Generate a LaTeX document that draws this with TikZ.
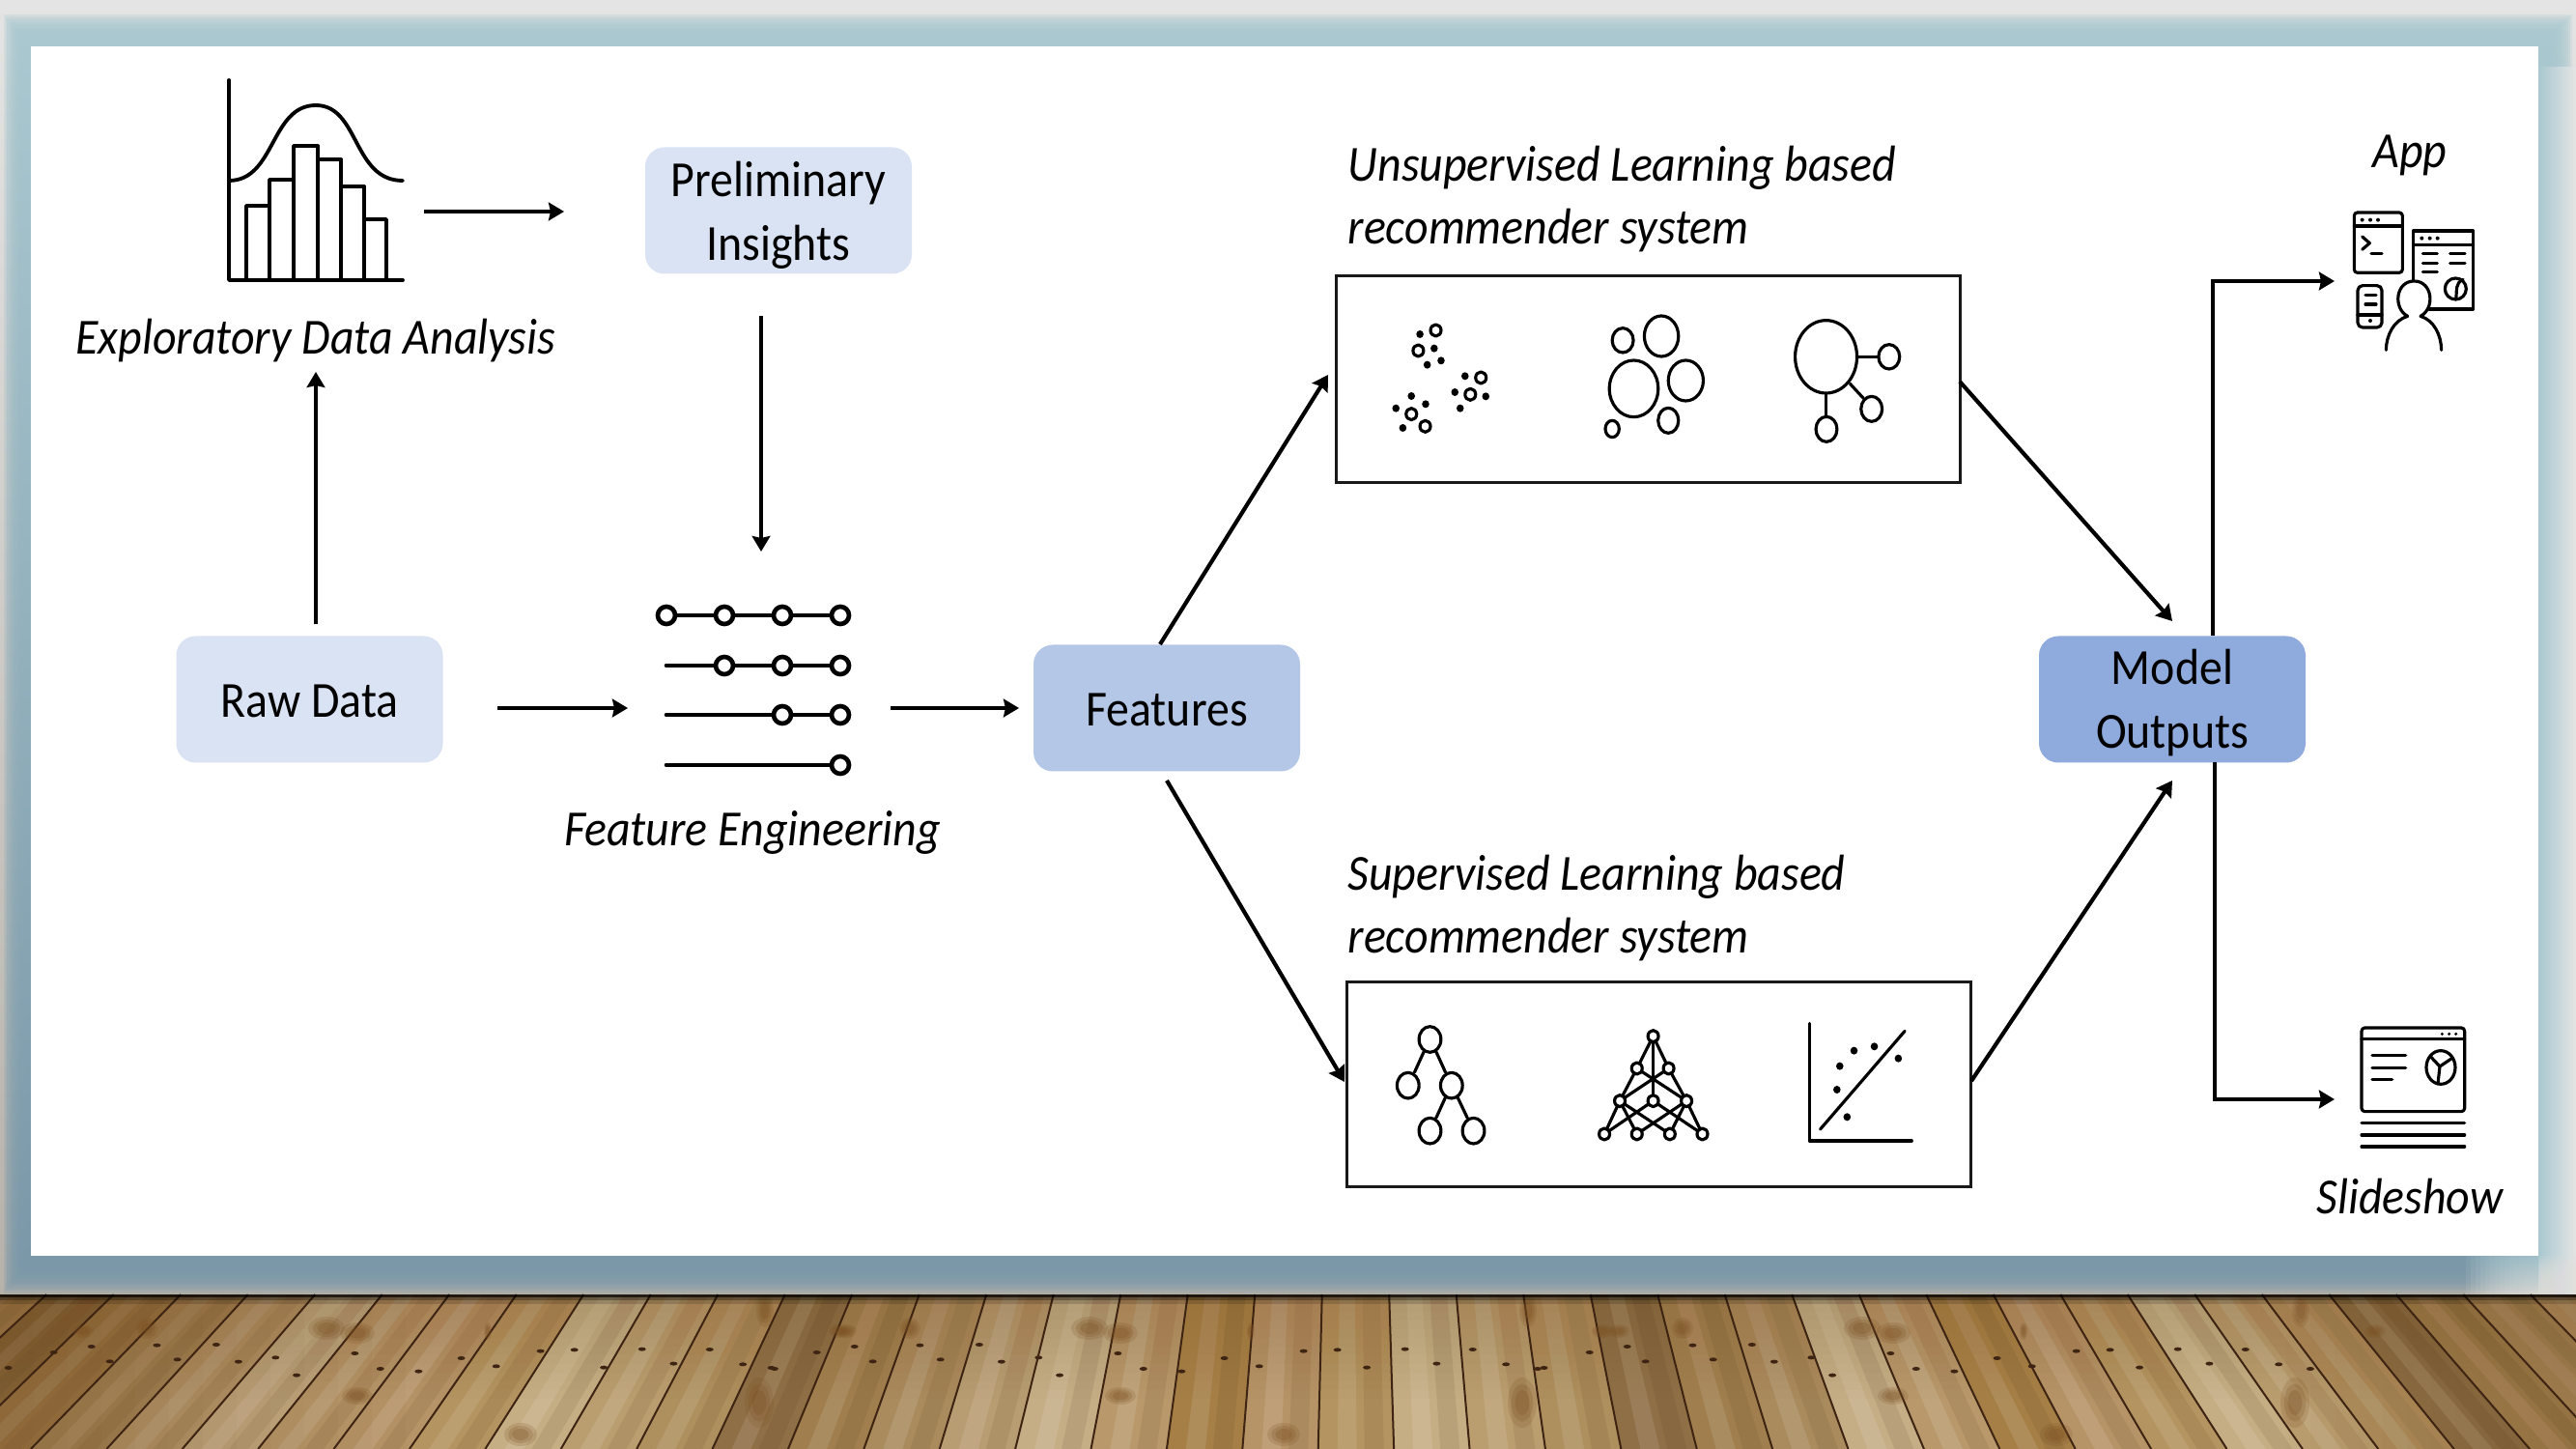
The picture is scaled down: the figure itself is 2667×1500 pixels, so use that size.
\documentclass[tikz,border=0pt]{standalone}
\usepackage{fontspec}
\setmainfont{Carlito}[FakeStretch=0.915]
\usetikzlibrary{arrows.meta}
\definecolor{boxA}{HTML}{DAE3F3}
\definecolor{boxB}{HTML}{B4C7E7}
\definecolor{boxC}{HTML}{8FAADC}
\definecolor{wallT}{HTML}{E4E4E4}
\definecolor{wallB}{HTML}{B6B1A9}
\definecolor{wallC}{HTML}{E2E0DC}
\definecolor{haloT}{HTML}{A9C8D0}
\definecolor{haloB}{HTML}{7A98A8}
\definecolor{wood0}{HTML}{8F6F45}
\definecolor{wood1}{HTML}{A07E4E}
\definecolor{wood2}{HTML}{A98B5E}
\definecolor{wood3}{HTML}{B99D72}
\definecolor{wood4}{HTML}{C5AD86}
\definecolor{wood5}{HTML}{B9996C}
\definecolor{wood6}{HTML}{A67F47}
\definecolor{wood7}{HTML}{B69468}
\definecolor{wood8}{HTML}{B49460}
\definecolor{wood9}{HTML}{C5AD84}
\definecolor{wood10}{HTML}{BB9E70}
\definecolor{wood11}{HTML}{AE8F5E}
\definecolor{knot}{HTML}{3E2412}
\definecolor{blotch}{HTML}{7A4E20}
\tikzset{
  flow/.style={line width=1.25pt,-{Stealth[length=4.8pt,width=5.6pt,inset=0.6pt]}},
  roundbox/.style={rounded corners=6pt,minimum width=82.8pt,minimum height=39.3pt,inner sep=0pt},
  boxtext/.style={inner sep=0pt,align=center,font=\fontsize{15.7}{19.6}\selectfont},
  label/.style={inner sep=0pt,align=left,font=\fontsize{15.7}{19.6}\selectfont\itshape},
  frame/.style={draw=black!90,line width=1pt,fill=white,inner sep=0pt},
  thinicon/.style={line width=0.95pt,line cap=round,line join=round},
}
\begin{document}
\begin{tikzpicture}[x=0.3pt,y=-0.3pt]
\useasboundingbox (0,0) rectangle (2667,1500);
\clip (0,0) rectangle (2667,1500);
% wall and halo
\shade[top color=wallT,bottom color=wallB] (0,0) rectangle (2667,1345);
\foreach \t in {0,0.0625,...,1}{
  \shade[top color=haloT,bottom color=haloB,opacity=0.24]
    ({4+28*\t},{16+32*\t}) rectangle ({2663-35*\t},{1338-38*\t});
}
\shade[left color=haloT,middle color=haloT!75!wallT,right color=wallT] (2628,70) rectangle (2667,1341);
\foreach \i in {0,...,15}{
  \fill[wallC,opacity=0.13] (2628,{1300+2.5*\i}) rectangle (2667,1341);
  \shade[top color=haloT,bottom color=wallC,opacity=0.13] ({2628-5*\i},1300) rectangle (2628,1341);
}
% floor
\foreach \k in {-22,...,21}{
  \pgfmathsetmacro\xa{1400+69.5*(\k+0.55)}
  \pgfmathsetmacro\xb{1400+69.5*(\k+1.55)}
  \pgfmathsetmacro\xc{1400+78.4*(\k+0.55)}
  \pgfmathsetmacro\xd{1400+78.4*(\k+1.55)}
  \pgfmathtruncatemacro\woodidx{mod(floor(mod(\xa+1590,795)/66.3),12)}
  \fill[wood\woodidx] (\xa,1340) -- (\xb,1340) -- (\xd,1500) -- (\xc,1500) -- cycle;
  \fill[white,opacity=0.11] ({\xa+18},1340) -- ({\xa+34},1340) -- ({\xc+40},1500) -- ({\xc+20},1500) -- cycle;
  \fill[black!60!brown,opacity=0.10] ({\xa+42},1340) -- ({\xa+60},1340) -- ({\xc+68},1500) -- ({\xc+48},1500) -- cycle;
}
\foreach \i in {1,...,12}{
  \fill[blotch,opacity=0.035] (0,1340) rectangle ({35*\i},1500);
  \fill[blotch,opacity=0.02] ({2667-25*\i},1340) rectangle (2667,1500);
  \fill[blotch,opacity=0.02] (0,1340) rectangle (2667,{1340+9*\i});
}
\foreach \k in {-22,...,21}{
  \pgfmathsetmacro\xa{1400+69.5*(\k+0.55)}
  \pgfmathsetmacro\xc{1400+78.4*(\k+0.55)}
  \draw[knot,line width=0.6pt] (\xa,1340) -- (\xc,1500);
}
\foreach \s in {0,790,1590}{
\begin{scope}[shift={(\s,0)}]
  \foreach \x/\y/\a/\b in {86/1378/11/7,338/1375/19/12,370/1380/18/11,505/1378/4/9,792/1357/9/17,869/1378/11/7,786/1452/15/26,539/1485/17/12,370/1445/16/9,152/1375/11/11}{
    \fill[blotch,opacity=0.18] (\x,\y) ellipse [x radius=\a,y radius=\b];
    \fill[blotch,opacity=0.22] (\x,\y) ellipse [x radius=0.75*\a,y radius=0.75*\b];
    \fill[blotch,opacity=0.25] (\x,\y) ellipse [x radius=0.5*\a,y radius=0.5*\b];
  }
\end{scope}
\begin{scope}[shift={(\s,1260)},xscale=0.574,yscale=0.3333]
  \foreach \x/\y in {15/468,97/420,165/402,198/448,283/398,320/442,390/396,430/449,497/436,535/491,640/423,686/471,755/479,832/438,895/463,975/416,1036/412,1089/467,1158/410,1215/455,1280/411,1340/457,1397/471}
    \fill[knot] (\x,\y) ellipse [x radius=7,y radius=6];
\end{scope}
}
\fill[black,opacity=0.8] (0,1340) rectangle (2667,1343);
\fill[black,opacity=0.4] (0,1343) rectangle (2667,1346);
\fill[black,opacity=0.15] (0,1346) rectangle (2667,1350);
% panel
\fill[white] (32,48) rectangle (2628,1300);
% boxes
\node[roundbox,fill=boxA] (prelim) at (806,218) {};
\node[boxtext] (prelimT) at (806,223) {Preliminary\\Insights};
\node[roundbox,fill=boxA] (raw) at (320.5,724) {};
\node[boxtext] (rawT) at (320.5,726) {Raw Data};
\node[roundbox,fill=boxB] (feat) at (1208,733) {};
\node[boxtext] (featTx) at (1208,735) {Features};
\node[roundbox,fill=boxC] (model) at (2249,724) {};
\node[boxtext] (modelTx) at (2249,727.5) {Model\\Outputs};
\node[frame,minimum width=193.8pt,minimum height=64.2pt,anchor=north west] (unsup) at (1382,284) {};
\node[frame,minimum width=193.8pt,minimum height=63.6pt,anchor=north west] (sup) at (1393,1015) {};
% labels
\node[label] (edaL) at (327,353) {Exploratory Data Analysis};
\node[label] (feL) at (779,862) {Feature Engineering};
\node[label,anchor=west] (unL) at (1395,206) {Unsupervised Learning based\\recommender system};
\node[label,anchor=west] (suL) at (1395,940) {Supervised Learning based\\recommender system};
\node[label] (appL) at (2495,161) {App};
\node[label] (slL) at (2495,1238.5) {Slideshow};
% histogram
\begin{scope}[thinicon,line width=1.15pt]
  \draw (237,83) -- (237,290) -- (417,290);
  \draw (255,290) |- (279,213) -- (279,290);
  \draw (279,213) |- (304,186) -- (304,290);
  \draw (304,186) |- (329,151) -- (329,290);
  \draw (329,151) |- (353,165) -- (353,290);
  \draw (353,165) |- (377,193) -- (377,290);
  \draw (377,193) |- (400,227) -- (400,290);
  \draw (237,187) .. controls (285,187) and (280,109) .. (327,109) .. controls (372,109) and (365,187) .. (417,187);
\end{scope}
% sliders
\begin{scope}[thinicon,line width=1.4pt]
  \draw (690,637) -- (870,637);
  \draw (690,689) -- (870,689);
  \draw (690,740) -- (870,740);
  \draw (690,792) -- (870,792);
  \foreach \x/\y in {690/637,750/637,810/637,870/637,750/689,810/689,870/689,810/740,870/740,870/792}
    \filldraw[fill=white] (\x,\y) circle (9);
\end{scope}
% unsupervised icons
\begin{scope}[shift={(1380,280)},xscale=0.4209,yscale=0.3333,thinicon]
  \foreach \x/\y in {214/198,249/242,266/280,232/293,325/328,300/378,376/391,313/428,193/390,228/415,155/428,172/489}
    \fill (\x,\y) ellipse [x radius=9,y radius=12];
  \foreach \x/\y in {253/186,210/249,364/333,338/385,193/446,227/484}
    \draw (\x,\y) ellipse [x radius=13,y radius=18];
  \foreach \x/\y/\a/\b in {713/217/26/38,808/204/42/63,740/367/60/88,868/342/43/63,825/466/25/39,687/492/17/26,1213/268/76/113,1368/268/26/38,1325/430/26/39,1214/493/26/39}
    \draw (\x,\y) ellipse [x radius=\a,y radius=\b];
  \draw (1290,268) -- (1342,268);
  \draw (1272,352) -- (1305,397);
  \draw (1213,382) -- (1213,455);
\end{scope}
% supervised icons
\begin{scope}[shift={(1390,1010)},xscale=0.4209,yscale=0.3333,thinicon]
  \foreach \x/\y in {215/198,161/341,268/341,215/482,322/482}
    \draw (\x,\y) ellipse [x radius=27,y radius=40];
  \draw (200,236) -- (177,300);
  \draw (230,236) -- (253,300);
  \draw (253,378) -- (230,442);
  \draw (283,378) -- (307,442);
  \foreach \xa/\ya/\xb/\yb in {764/188/724/288,764/188/802/288,764/188/764/389,724/288/682/389,802/288/846/389,724/288/846/389,802/288/682/389,682/389/644/492,682/389/724/492,682/389/805/492,764/389/644/492,764/389/885/492,846/389/724/492,846/389/805/492,846/389/885/492}
    \draw (\xa,\ya) -- (\xb,\yb);
  \foreach \x/\y in {764/188,724/288,802/288,682/389,764/389,846/389,644/492,724/492,805/492,885/492}
    \filldraw[fill=white] (\x,\y) ellipse [x radius=13,y radius=18];
  \draw (1148,148) -- (1148,513) -- (1400,513);
  \draw (1175,477) -- (1383,172);
  \foreach \x/\y in {1258/233,1308/220,1367/257,1223/281,1216/354,1241/439}
    \fill (\x,\y) ellipse [x radius=9,y radius=12];
\end{scope}
% app icon
\begin{scope}[shift={(2400,200)},xscale=0.3333,yscale=0.3333,thinicon]
  \draw[rounded corners=1pt] (112,60) rectangle (262,247);
  \draw (112,102) -- (262,102);
  \foreach \x in {137,162,186} \fill (\x,83) circle (6);
  \draw (137,135) -- (160,155) -- (137,175);
  \draw (165,188) -- (198,188);
  \draw (295,270) -- (295,117) -- (482,117) -- (482,360) -- (345,360);
  \draw (295,160) -- (482,160);
  \foreach \x in {322,347,371} \fill (\x,140) circle (6);
  \foreach \xa/\xb/\y in {325/370/188,410/456/188,325/370/217,410/456/217,325/370/245}
    \draw (\xa,\y) -- (\xb,\y);
  \draw (427,297) circle (33);
  \draw (450,268) .. controls (425,280) and (432,300) .. (428,330);
  \draw[rounded corners=1.5pt] (123,287) rectangle (198,417);
  \draw (147,316) -- (180,316);
  \draw (147,345) -- (180,345);
  \draw (123,378) -- (198,378);
  \fill (162,396) circle (6);
  \draw (278,382) .. controls (232,358) and (240,273) .. (298,273) .. controls (356,273) and (364,358) .. (318,382);
  \draw (278,382) .. controls (235,395) and (212,440) .. (211,487);
  \draw (318,382) .. controls (360,395) and (382,440) .. (383,487);
\end{scope}
% slideshow icon
\begin{scope}[shift={(2420,1040)},xscale=0.3333,yscale=0.3333,thinicon]
  \draw[rounded corners=1pt] (75,72) rectangle (395,332);
  \draw (75,107) -- (395,107);
  \foreach \x in {325,347,368} \fill (\x,91) circle (5);
  \draw (108,158) -- (212,158);
  \draw (108,196) -- (212,196);
  \draw (108,233) -- (170,233);
  \draw (321,195) ellipse [x radius=45,y radius=52];
  \draw (318,192) -- (288,160);
  \draw (318,192) -- (358,165);
  \draw (318,192) -- (312,246);
  \draw (75,368) -- (395,368);
  \draw (75,405) -- (395,405);
  \draw (75,441) -- (395,441);
\end{scope}
% connector ends
\coordinate (histR) at (439,219);
\coordinate (prelimL) at (584,219);
\coordinate (rawTop) at (327,646);
\coordinate (edaB) at (327,385);
\coordinate (prelimB) at (788,327);
\coordinate (sliderT) at (788,571);
\coordinate (rawR) at (515,733);
\coordinate (sliderL) at (650,733);
\coordinate (sliderR) at (922,733);
\coordinate (featL) at (1055,733);
\coordinate (featTop) at (1201,667);
\coordinate (unsupL) at (1375,388);
\coordinate (featB) at (1208,808);
\coordinate (supL) at (1392,1120);
\coordinate (unsupR) at (2029,395);
\coordinate (modelTop) at (2249,643);
\coordinate (supR) at (2041,1119);
\coordinate (modelB) at (2249,808);
\coordinate (modelTR) at (2291,658);
\coordinate (appIn) at (2417,291);
\coordinate (modelBR) at (2293,789);
\coordinate (slIn) at (2417,1138);
\draw[flow] (histR) -- (prelimL);
\draw[flow] (rawTop) -- (edaB);
\draw[flow] (prelimB) -- (sliderT);
\draw[flow] (rawR) -- (sliderL);
\draw[flow] (sliderR) -- (featL);
\draw[flow] (featTop) -- (unsupL);
\draw[flow] (featB) -- (supL);
\draw[flow] (unsupR) -- (modelTop);
\draw[flow] (supR) -- (modelB);
\draw[flow] (modelTR) |- (appIn);
\draw[flow] (modelBR) |- (slIn);
\end{tikzpicture}
\end{document}
